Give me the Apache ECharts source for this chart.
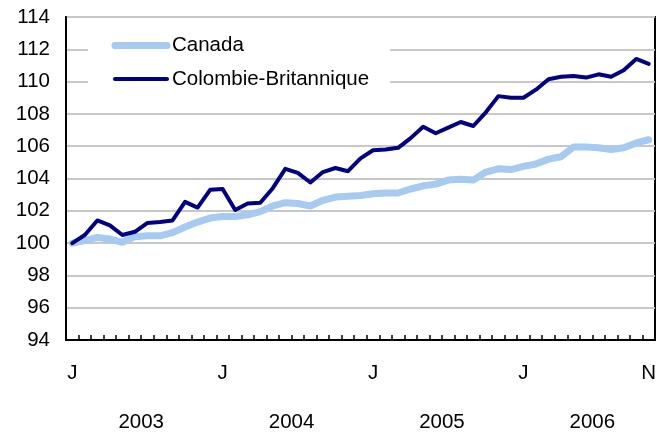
<!DOCTYPE html>
<html>
<head>
<meta charset="utf-8">
<script src="https://cdn.jsdelivr.net/npm/echarts@6/dist/echarts.min.js"></script>
<style>html,body{margin:0;padding:0;background:#fff}#c{width:668px;height:433px}</style>
</head>
<body>
<div id="c"></div>
<script>
const months = ['J','F','M','A','M','J','J','A','S','O','N','D',
  'J','F','M','A','M','J','J','A','S','O','N','D',
  'J','F','M','A','M','J','J','A','S','O','N','D',
  'J','F','M','A','M','J','J','A','S','O','N'];
const years = ['2003','2004','2005','2006'];
const yearCenters = [5.5, 17.5, 29.5, 41.5];
const canada = [100.0,100.15,100.35,100.25,100.05,100.4,100.45,100.45,100.65,101.0,101.3,101.55,
  101.65,101.65,101.75,101.95,102.3,102.5,102.45,102.3,102.65,102.85,102.9,102.95,
  103.05,103.1,103.1,103.35,103.55,103.65,103.9,103.95,103.9,104.4,104.6,104.55,
  104.75,104.9,105.2,105.35,105.95,105.95,105.9,105.8,105.9,106.2,106.4];
const bc = [100.0,100.5,101.4,101.1,100.5,100.7,101.25,101.3,101.4,102.55,102.2,103.3,
  103.35,102.05,102.45,102.5,103.4,104.6,104.35,103.75,104.4,104.65,104.45,105.25,
  105.75,105.8,105.9,106.5,107.2,106.8,107.15,107.5,107.25,108.1,109.1,109.0,
  109.0,109.5,110.15,110.3,110.35,110.25,110.45,110.3,110.7,111.4,111.1];
const seriesNames = ['Canada','Colombie-Britannique'];
const yTicks = {min:94, max:114, step:2};

const FONT = '"Liberation Sans", Arial, sans-serif';
const FS = 20.5;
const C_CAN = '#a6caf0', C_BC = '#000080';
const chart = echarts.init(document.getElementById('c'), null, {renderer:'canvas'});
chart.setOption({
  animation:false,
  backgroundColor:'#fff',
  textStyle:{fontFamily:FONT},
  grid:{left:66,right:13,top:17,bottom:93,show:true,borderColor:'#000',borderWidth:2,containLabel:false},
  legend:{
    orient:'vertical', left:88, top:29,
    backgroundColor:'#fff', padding:[6,21,6,23.5],
    itemWidth:52, itemHeight:14, itemGap:12.5,
    textStyle:{fontFamily:FONT,fontSize:FS,color:'#000',padding:[4,0,0,0]},
    itemStyle:{opacity:0},
    data:[
      {name:seriesNames[0], itemStyle:{opacity:0}, lineStyle:{width:7,color:C_CAN,cap:'round'}},
      {name:seriesNames[1], itemStyle:{opacity:0}, lineStyle:{width:4,color:C_BC,cap:'round'}}
    ]
  },
  xAxis:[{
    type:'category', data:months, boundaryGap:true,
    axisLine:{onZero:false,lineStyle:{color:'#000',width:2}},
    axisTick:{show:true,inside:true,length:5,interval:0,lineStyle:{color:'#000',width:1.5}},
    axisLabel:{interval:function(i){return i%12===0||i===months.length-1;},margin:23,fontSize:FS,color:'#000',fontFamily:FONT},
    splitLine:{show:false}
  },{
    type:'value', min:-0.5, max:months.length-0.5, position:'bottom', offset:0,
    axisLine:{show:false,onZero:false}, axisTick:{show:false}, splitLine:{show:false},
    axisLabel:{customValues:yearCenters,margin:72,fontSize:FS,color:'#000',fontFamily:FONT,
      formatter:function(v){const k=yearCenters.indexOf(v);return k>=0?years[k]:'';}}
  }],
  yAxis:{
    type:'value', min:yTicks.min, max:yTicks.max, interval:yTicks.step,
    axisLine:{show:true,onZero:false,lineStyle:{color:'#000',width:2}},
    axisTick:{show:false},
    axisLabel:{margin:16,fontSize:FS,color:'#000',fontFamily:FONT},
    splitLine:{lineStyle:{color:'#c8c8c8',width:2}}
  },
  series:[{
    name:seriesNames[0], type:'line', data:canada, showSymbol:false, symbol:'none',
    lineStyle:{color:C_CAN,width:7,cap:'round',join:'round'}, itemStyle:{color:C_CAN}, z:2
  },{
    name:seriesNames[1], type:'line', data:bc, showSymbol:false, symbol:'none',
    lineStyle:{color:C_BC,width:4,cap:'round',join:'round'}, itemStyle:{color:C_BC}, z:3
  }]
});
</script>
</body>
</html>
